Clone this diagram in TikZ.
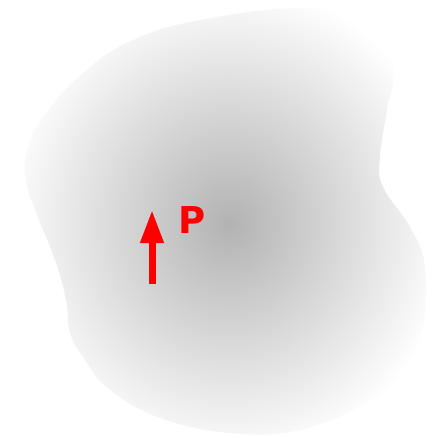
\documentclass[tikz,border=0pt]{standalone}
\usepackage{fontspec}
\setmainfont{DejaVu Sans}
\usetikzlibrary{arrows.meta}
\pgfdeclareradialshading{blobshade}{\pgfpoint{0.5bp}{-0.3bp}}{rgb(0bp)=(.70,.70,.70); rgb(28bp)=(1,1,1); rgb(50bp)=(1,1,1)}
\begin{document}
\begin{tikzpicture}[x=1pt,y=-1pt,
  force/.style={draw=red,line width=7pt,-{Triangle[width=22pt,length=33pt]}},
  lab/.style={text=red,font=\bfseries\fontsize{37}{40}\selectfont,inner sep=0pt}]
\useasboundingbox (0,0) rectangle (431,438);
\shade[shading=blobshade]
  plot[smooth cycle,tension=0.7] coordinates{
  (27,150) (43,117) (83,73) (133,40) (200,20) (300,8) (372,18) (393,67)
  (387,110) (380,157) (383,187) (410,227) (425,267) (422,330) (400,375)
  (367,403) (300,430) (230,433) (160,418) (110,390) (85,360) (70,333)
  (66,300) (55,260) (35,210) (26,180)};
\coordinate (tail) at (152,284);
\coordinate (tip) at (152,210);
\draw[force] (tail) -- (tip);
\node[lab,anchor=base west] (p) at (178,233) {P};
\end{tikzpicture}
\end{document}
